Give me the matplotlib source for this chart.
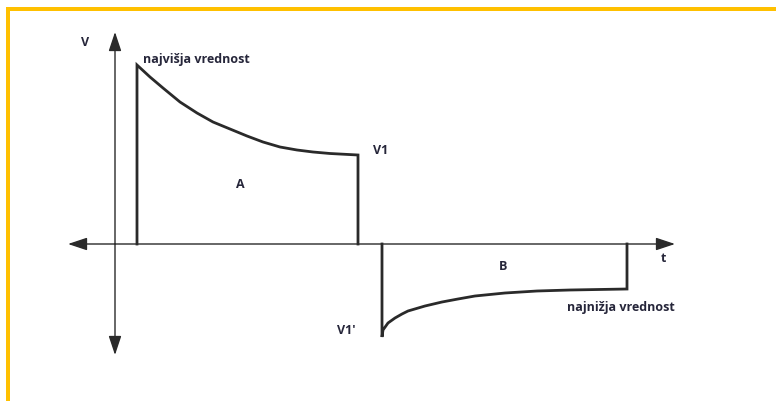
import matplotlib.pyplot as plt
from matplotlib.patches import Rectangle

# pulse A (positive part)
a_t = [22, 35, 48, 65, 82, 98, 115, 132, 148, 165, 182, 198, 215, 243]
a_v = [179, 167, 156, 142, 131, 122, 115, 108, 102, 97, 94, 92, 90.5, 89]

# pulse B (negative part)
b_t = [267, 268, 273, 280, 287, 293, 310, 327, 343, 360, 390, 422, 455, 512]
b_v = [-93, -86, -79, -74, -70, -67, -62, -58, -55, -52, -49, -47, -46, -45]

t_axis = [-47, 560]
v_axis = [-111, 212]

ink = '#2a2a2a'
txt = '#26263a'
yellow = '#FFC000'

fig = plt.figure(figsize=(7.76, 4.01), dpi=100)
ax = fig.add_axes([0, 0, 1, 1])
ax.set_xlim(-115, 661)
ax.set_ylim(-157, 244)
ax.axis('off')

# axes with arrows at both ends
arr = dict(arrowstyle='-|>,head_length=0.9,head_width=0.3', lw=1.0,
           color=ink, mutation_scale=13, shrinkA=0, shrinkB=0)
ax.annotate('', xy=(t_axis[1], 0), xytext=(0, 0), arrowprops=arr)
ax.annotate('', xy=(t_axis[0], 0), xytext=(0, 0), arrowprops=arr)
ax.annotate('', xy=(0, v_axis[1]), xytext=(0, 0), arrowprops=arr)
ax.annotate('', xy=(0, v_axis[0]), xytext=(0, 0), arrowprops=arr)

# pulses
ax.plot([a_t[0]] + a_t + [a_t[-1]], [0] + a_v + [0], color=ink, lw=2.0,
        solid_joinstyle='miter')
ax.plot([b_t[0]] + b_t + [b_t[-1]], [0] + b_v + [0], color=ink, lw=2.0,
        solid_joinstyle='miter')

fk = dict(color=txt, fontsize=9, fontweight='bold', family='Open Sans')
ax.text(-30, 202, 'V', ha='center', va='center', **fk)
ax.text(28, 184, 'najvišja vrednost', ha='left', va='center', **fk)
ax.text(258, 94, 'V1', ha='left', va='center', **fk)
ax.text(125, 59, 'A', ha='center', va='center', **fk)
ax.text(388, -23, 'B', ha='center', va='center', **fk)
ax.text(548, -15, 't', ha='center', va='center', **fk)
ax.text(452, -64, 'najnižja vrednost', ha='left', va='center', **fk)
ax.text(222, -86, "V1'", ha='left', va='center', **fk)

# yellow frame (top and left)
fig.patches.append(Rectangle((6 / 776, 1 - 11 / 401), 1, 4 / 401,
                             transform=fig.transFigure, color=yellow, lw=0))
fig.patches.append(Rectangle((6 / 776, 0), 4 / 776, 1 - 7 / 401,
                             transform=fig.transFigure, color=yellow, lw=0))

fig.savefig('out.png', dpi=100)
